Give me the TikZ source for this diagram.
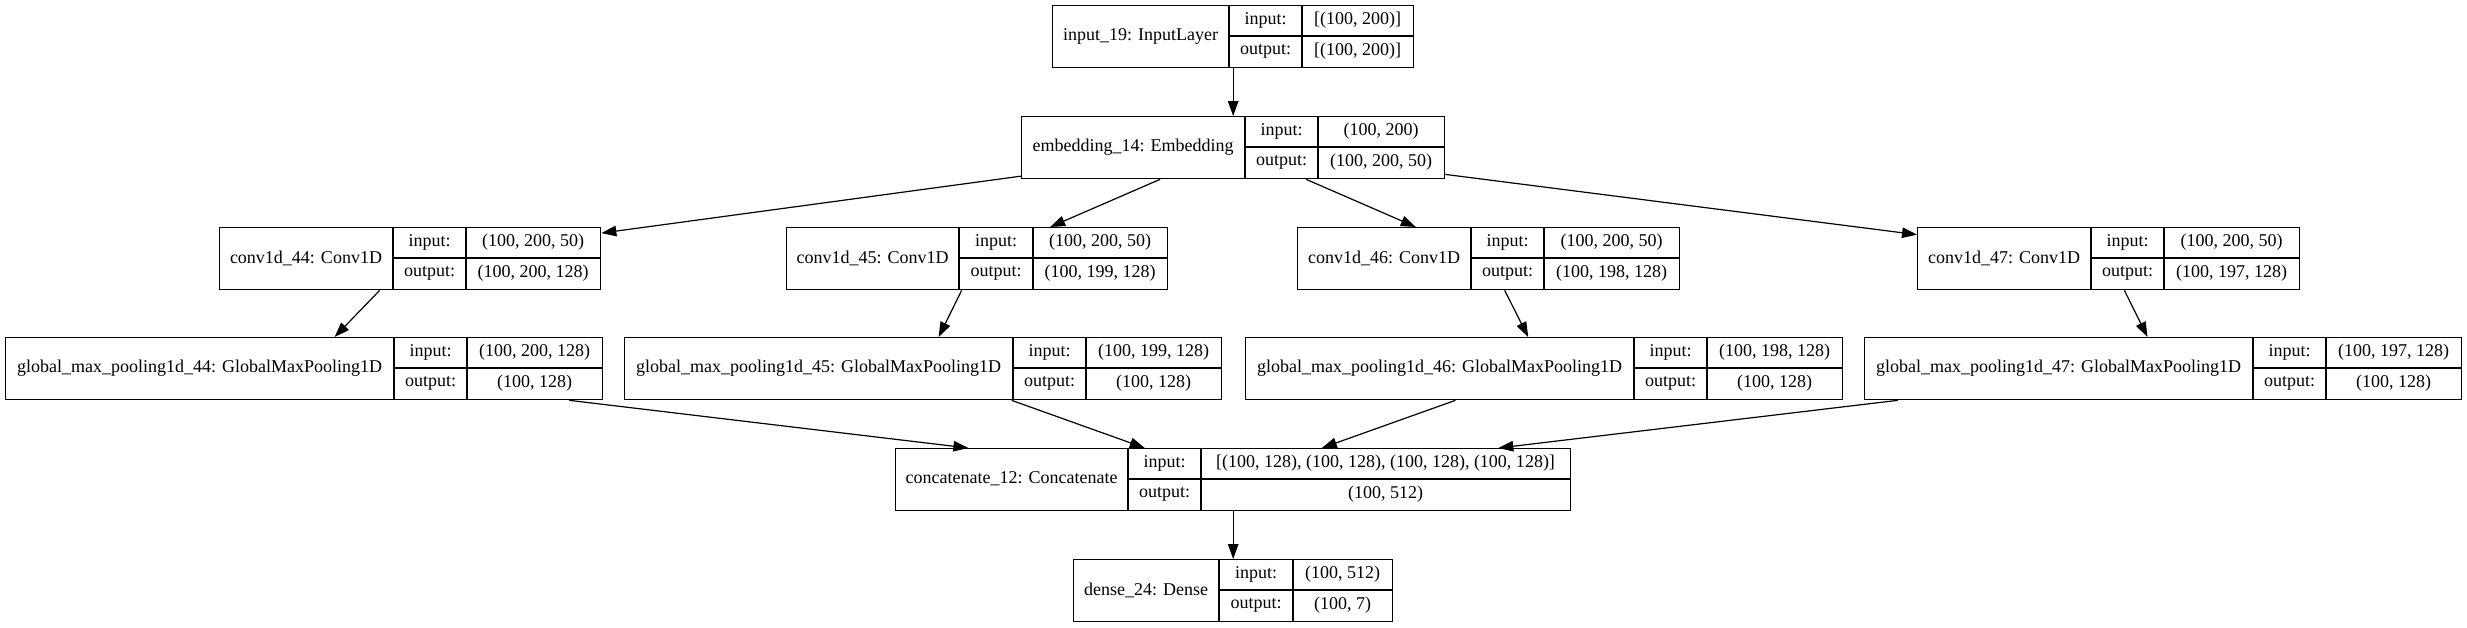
\documentclass[tikz,border=0pt]{standalone}
\usepackage{fontspec}
\setmainfont{Liberation Serif}
\usetikzlibrary{arrows.meta}
\tikzset{
  box/.style={draw, line width=1.33pt, minimum height=62pt, inner sep=0pt, anchor=north west},
  cell/.style={line width=1.33pt},
  txt/.style={font=\fontsize{18}{21}\selectfont, inner sep=0pt},
  edge/.style={line width=1.2pt, -{Triangle[length=15pt,width=10.5pt]}},
}
% #1 name, #2 left, #3 split1, #4 split2, #5 right, #6 top, #7 label, #8 input, #9 output
\newcommand\kerasbox[9]{%
  \pgfmathsetmacro\kbw{#5-#2}%
  \node[box, minimum width=\kbw pt] (#1) at (#2,#6) {};
  \draw[cell] (#3,#6) -- (#3,#6+62) (#4,#6) -- (#4,#6+62) (#3,#6+31) -- (#5,#6+31);
  \node[txt] (#1-name) at ({(#2+#3)/2},#6+31) {#7};
  \node[txt] (#1-inl) at ({(#3+#4)/2},#6+15.5) {input:};
  \node[txt] (#1-outl) at ({(#3+#4)/2},#6+46.5) {output:};
  \node[txt] (#1-in) at ({(#4+#5)/2},#6+15.5) {#8};
  \node[txt] (#1-out) at ({(#4+#5)/2},#6+46.5) {#9};
}
\begin{document}
\begin{tikzpicture}[x=1pt,y=-1pt]
\fill[white] (0,0) rectangle (2467,627);
\useasboundingbox (0,0) rectangle (2467,627);

\kerasbox{input}{1052}{1229}{1302}{1413}{5}{input\_19: InputLayer}{[(100, 200)]}{[(100, 200)]}
\kerasbox{emb}{1021}{1245}{1318}{1444}{116}{embedding\_14: Embedding}{(100, 200)}{(100, 200, 50)}

\kerasbox{conva}{219}{393}{466}{600}{227}{conv1d\_44: Conv1D}{(100, 200, 50)}{(100, 200, 128)}
\kerasbox{convb}{786}{959}{1033}{1167}{227}{conv1d\_45: Conv1D}{(100, 200, 50)}{(100, 199, 128)}
\kerasbox{convc}{1297}{1471}{1544}{1679}{227}{conv1d\_46: Conv1D}{(100, 200, 50)}{(100, 198, 128)}
\kerasbox{convd}{1917}{2091}{2164}{2299}{227}{conv1d\_47: Conv1D}{(100, 200, 50)}{(100, 197, 128)}

\kerasbox{gmpa}{5}{394}{467}{602}{337}{global\_max\_pooling1d\_44: GlobalMaxPooling1D}{(100, 200, 128)}{(100, 128)}
\kerasbox{gmpb}{624}{1013}{1086}{1221}{337}{global\_max\_pooling1d\_45: GlobalMaxPooling1D}{(100, 199, 128)}{(100, 128)}
\kerasbox{gmpc}{1245}{1634}{1707}{1842}{337}{global\_max\_pooling1d\_46: GlobalMaxPooling1D}{(100, 198, 128)}{(100, 128)}
\kerasbox{gmpd}{1864}{2253}{2326}{2461}{337}{global\_max\_pooling1d\_47: GlobalMaxPooling1D}{(100, 197, 128)}{(100, 128)}

\kerasbox{concat}{895}{1128}{1201}{1570}{448}{concatenate\_12: Concatenate}{[(100, 128), (100, 128), (100, 128), (100, 128)]}{(100, 512)}
\kerasbox{dense}{1073}{1219}{1293}{1392}{559}{dense\_24: Dense}{(100, 512)}{(100, 7)}

\draw[edge] (input) -- (emb);
\draw[edge] (emb) -- (conva);
\draw[edge] (emb) -- (convb);
\draw[edge] (emb) -- (convc);
\draw[edge] (emb) -- (convd);
\draw[edge] (conva) -- (gmpa);
\draw[edge] (convb) -- (gmpb);
\draw[edge] (convc) -- (gmpc);
\draw[edge] (convd) -- (gmpd);
\draw[edge] (gmpa) -- (concat);
\draw[edge] (gmpb) -- (concat);
\draw[edge] (gmpc) -- (concat);
\draw[edge] (gmpd) -- (concat);
\draw[edge] (concat) -- (dense);
\end{tikzpicture}
\end{document}
